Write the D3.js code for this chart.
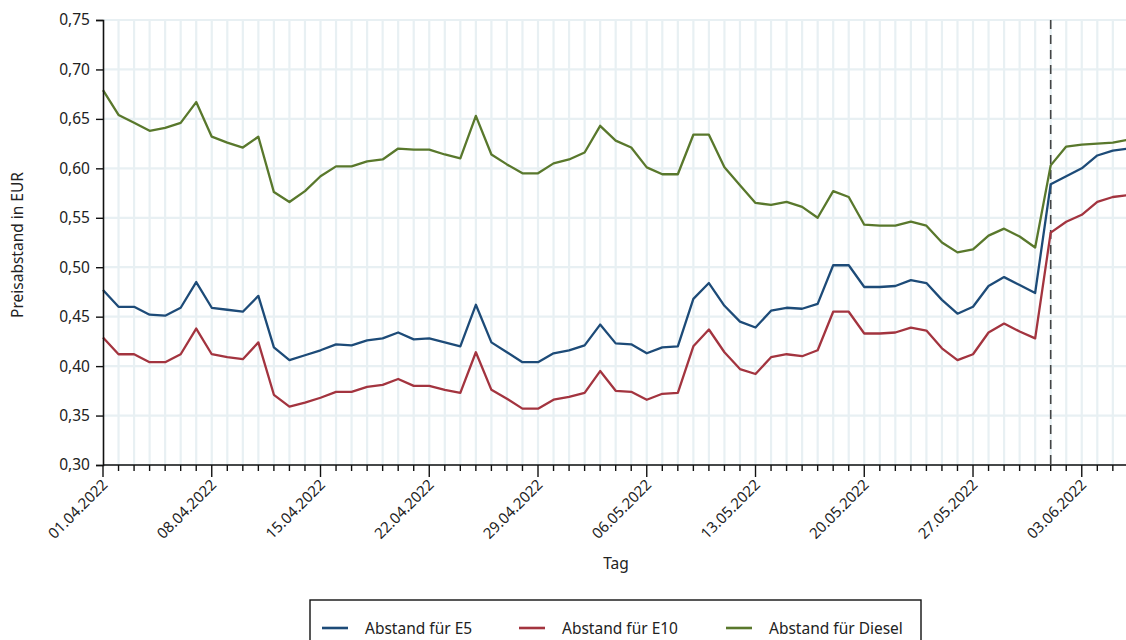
<!DOCTYPE html>
<html><head><meta charset="utf-8">
<script src="https://cdn.jsdelivr.net/npm/d3@7"></script>
<style>
html,body{margin:0;padding:0;background:#fff;overflow:hidden}
svg{display:block;font-family:"Noto Sans",sans-serif}
</style></head><body>
<svg id="c" width="1126" height="640"></svg>
<script>
const startDate = "2022-04-01";
const markerDay = "2022-06-01";
const e5 = [0.477,0.460,0.460,0.452,0.451,0.459,0.485,0.459,0.457,0.455,0.471,0.419,0.406,0.411,0.416,0.422,0.421,
  0.426,0.428,0.434,0.427,0.428,0.424,0.420,0.462,0.424,0.414,0.404,0.404,0.413,0.416,0.421,0.442,
  0.423,0.422,0.413,0.419,0.420,0.468,0.484,0.461,0.445,0.439,0.456,0.459,0.458,0.463,0.502,0.502,
  0.480,0.480,0.481,0.487,0.484,0.467,0.453,0.460,0.481,0.490,0.482,0.474,0.584,0.592,0.600,0.613,0.618,0.620];
const e10 = [0.429,0.412,0.412,0.404,0.404,0.412,0.438,0.412,0.409,0.407,0.424,0.371,0.359,0.363,0.368,0.374,0.374,
  0.379,0.381,0.387,0.380,0.380,0.376,0.373,0.414,0.376,0.367,0.357,0.357,0.366,0.369,0.373,0.395,
  0.375,0.374,0.366,0.372,0.373,0.420,0.437,0.414,0.397,0.392,0.409,0.412,0.410,0.416,0.455,0.455,
  0.433,0.433,0.434,0.439,0.436,0.418,0.406,0.412,0.434,0.443,0.435,0.428,0.535,0.546,0.553,0.566,0.571,0.573];
const diesel = [0.679,0.654,0.646,0.638,0.641,0.646,0.667,0.632,0.626,0.621,0.632,0.576,0.566,0.577,0.592,0.602,0.602,
  0.607,0.609,0.620,0.619,0.619,0.614,0.610,0.653,0.614,0.604,0.595,0.595,0.605,0.609,0.616,0.643,
  0.628,0.621,0.601,0.594,0.594,0.634,0.634,0.601,0.583,0.565,0.563,0.566,0.561,0.550,0.577,0.571,
  0.543,0.542,0.542,0.546,0.542,0.525,0.515,0.518,0.532,0.539,0.531,0.520,0.603,0.622,0.624,0.625,0.626,0.629];
const seriesNames = ["Abstand für E5","Abstand für E10","Abstand für Diesel"];
const seriesColors = ["#1d4b78","#a3343f","#59782c"];
const yTicks = [0.30,0.35,0.40,0.45,0.50,0.55,0.60,0.65,0.70,0.75];
const xTickLabels = ["01.04.2022","08.04.2022","15.04.2022","22.04.2022","29.04.2022","06.05.2022","13.05.2022","20.05.2022","27.05.2022","03.06.2022"];
const yTitle = "Preisabstand in EUR";
const xTitle = "Tag";

const svg = d3.select("#c");
const parse = d3.timeParse("%Y-%m-%d");
const fmtDate = d3.timeFormat("%d.%m.%Y");
const t0 = parse(startDate);
const dates = e5.map((_, i) => d3.timeDay.offset(t0, i));
const series = [e5, e10, diesel];

const mLeft = 103, mTop = 20, mBottom = 465;
const pxPerDay = 15.536;
const x = d3.scaleTime().domain([t0, dates[dates.length-1]]).range([mLeft, mLeft + pxPerDay*(dates.length-1)]);
const y = d3.scaleLinear().domain([0.30, 0.75]).range([mBottom, mTop]);
const loc = d3.formatLocale({decimal: ",", thousands: ".", grouping: [3], currency: ["", " €"]});
const yfmt = loc.format(".2f");

// gridlines
const g = svg.append("g");
g.selectAll(".hg").data(yTicks).join("line")
  .attr("x1", mLeft).attr("x2", 1126).attr("y1", d => y(d)).attr("y2", d => y(d))
  .attr("stroke", "#e8f0f3").attr("stroke-width", 2.2);
g.selectAll(".vg").data(dates.slice(1)).join("line")
  .attr("x1", d => x(d)).attr("x2", d => x(d)).attr("y1", mTop).attr("y2", mBottom)
  .attr("stroke", "#e8f0f3").attr("stroke-width", 2.2);

// dashed marker
svg.append("line")
  .attr("x1", x(parse(markerDay))).attr("x2", x(parse(markerDay)))
  .attr("y1", mTop).attr("y2", mBottom)
  .attr("stroke", "#444").attr("stroke-width", 1.6).attr("stroke-dasharray", "9,6");

// lines
const line = d3.line().x((d, i) => x(dates[i])).y(d => y(d));
series.forEach((s, k) => {
  svg.append("path").datum(s).attr("d", line)
    .attr("fill", "none").attr("stroke", seriesColors[k]).attr("stroke-width", 2.3)
    .attr("stroke-linejoin", "round");
});

// y axis
const ya = svg.append("g").attr("transform", `translate(${mLeft},0)`)
  .call(d3.axisLeft(y).tickValues(yTicks).tickFormat(yfmt).tickSize(7).tickPadding(6));
ya.select(".domain").attr("stroke", "#111").attr("stroke-width", 1.6);
ya.selectAll(".tick line").attr("stroke", "#111").attr("stroke-width", 1.4);
ya.selectAll("text").attr("font-size", 15.5).attr("fill", "#222").attr("font-family", "Noto Sans");

// x axis: minor daily ticks
const xa = svg.append("g").attr("transform", `translate(0,${mBottom})`);
xa.append("line").attr("x1", mLeft).attr("x2", 1126).attr("stroke", "#111").attr("stroke-width", 1.6);
xa.selectAll(".mt").data(dates).join("line")
  .attr("x1", d => x(d)).attr("x2", d => x(d)).attr("y1", 0)
  .attr("y2", (d, i) => i % 7 === 0 ? 12 : 6)
  .attr("stroke", "#111").attr("stroke-width", 1.4);
const major = dates.filter((d, i) => i % 7 === 0 && xTickLabels.includes(fmtDate(d)));
xa.selectAll(".xl").data(major).join("text")
  .attr("transform", d => `translate(${x(d)-2},13) rotate(-45)`)
  .attr("text-anchor", "end").attr("dy", "0.72em")
  .attr("font-size", 15).attr("fill", "#222")
  .text(d => fmtDate(d));

// axis titles
svg.append("text").attr("transform", "translate(23,245) rotate(-90)")
  .attr("text-anchor", "middle").attr("font-size", 15.5).attr("fill", "#222").text(yTitle);
svg.append("text").attr("x", 616).attr("y", 569)
  .attr("text-anchor", "middle").attr("font-size", 15.5).attr("fill", "#222").text(xTitle);

// legend
svg.append("rect").attr("x", 310).attr("y", 600).attr("width", 611).attr("height", 60)
  .attr("fill", "none").attr("stroke", "#111").attr("stroke-width", 1.4);
const legX = [322, 519, 726];
seriesNames.forEach((n, k) => {
  svg.append("line").attr("x1", legX[k]).attr("x2", legX[k]+26).attr("y1", 628).attr("y2", 628)
    .attr("stroke", seriesColors[k]).attr("stroke-width", 2.6);
  svg.append("text").attr("x", legX[k]+43).attr("y", 634).attr("font-size", 15.5).attr("fill", "#222").text(n);
});
</script>
</body></html>
